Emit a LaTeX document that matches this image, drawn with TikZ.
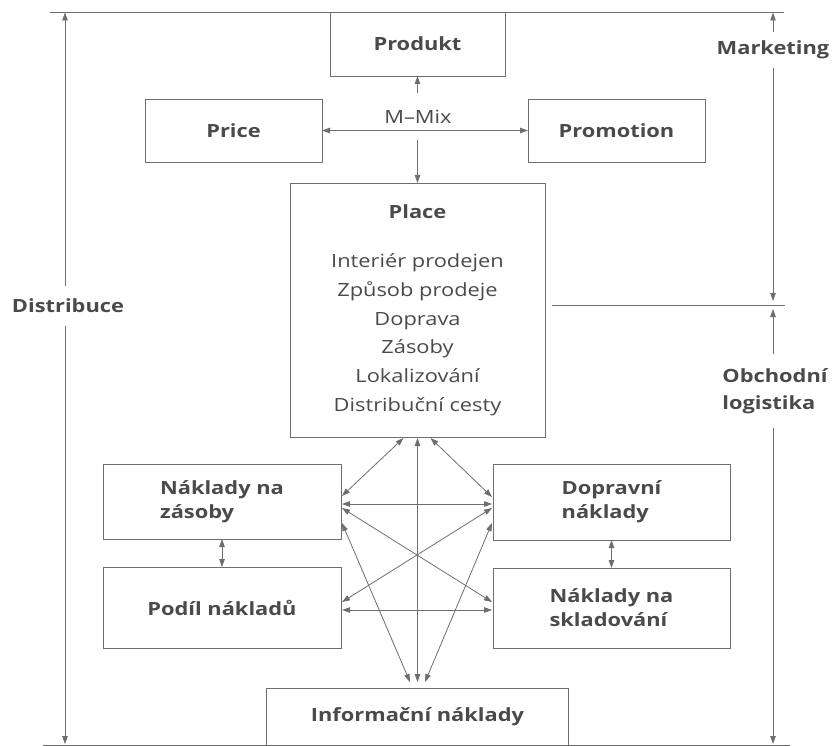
\documentclass[tikz,border=0pt]{standalone}
\usepackage{fontspec}
\setmainfont{Open Sans}[FakeStretch=1.2]
\usetikzlibrary{arrows.meta,calc}
\definecolor{ln}{HTML}{6E6E6E}
\definecolor{tx}{HTML}{4A4A4A}
\newcommand\lblfont{\fontsize{18.2}{24}\selectfont\bfseries}
\newcommand\txtfont{\fontsize{18.2}{28.7}\selectfont}
\begin{document}
\begin{tikzpicture}[x=1pt,y=-1pt,
  >={Triangle[length=8pt,width=5.5pt]},
  box/.style={draw=ln, line width=0.8pt, inner sep=0pt, outer sep=0pt,
    text=tx, font=\lblfont, align=center},
  axlbl/.style={text=tx, font=\lblfont, inner xsep=1pt, inner ysep=0pt},
  conn/.style={draw=ln, line width=0.8pt},
  plain/.style={draw=ln, line width=0.8pt}]
\useasboundingbox (0,0) rectangle (833,746);

% frame lines
\coordinate (topL) at (50,12);
\coordinate (topR) at (784,12);
\coordinate (botL) at (43,745);
\coordinate (botR) at (790,745);
\coordinate (midL) at (552,305);
\coordinate (midR) at (785,305);
\draw[plain] (topL) -- (topR);
\draw[plain] (botL) -- (botR);
\draw[plain] (midL) -- (midR);

% boxes
\node[box, minimum width=175pt, minimum height=64pt] (produkt) at (417.5,44) {Produkt};
\node[box, minimum width=177pt, minimum height=63pt] (price) at (233.5,130.5) {Price};
\node[box, minimum width=177pt, minimum height=63pt] (promotion) at (616.5,130.5) {Promotion};
\node[text=tx, font=\txtfont, inner sep=0pt] (mmix) at (418,117) {M–Mix};
\node[box, font=\txtfont, minimum width=255pt, minimum height=254pt] (place) at (417.5,310)
  {{\bfseries Place}\\[21pt] Interiér prodejen\\ Způsob prodeje\\ Doprava\\ Zásoby\\ Lokalizování\\ Distribuční cesty};
\node[box, align=left, minimum width=238pt, minimum height=75pt] (zasoby) at (222,501.5) {Náklady na\\zásoby};
\node[box, align=left, minimum width=237pt, minimum height=76pt] (doprava) at (611.5,502) {Dopravní\\náklady};
\node[box, minimum width=238pt, minimum height=81pt] (podil) at (222,607.5) {Podíl nákladů};
\node[box, align=left, minimum width=237pt, minimum height=80pt] (sklad) at (611.5,608) {Náklady na\\skladování};
\node[box, minimum width=302pt, minimum height=57pt] (info) at (417.5,716.5) {Informační náklady};

% axis labels
\node[axlbl, minimum height=40pt] (dist) at (68,306) {Distribuce};
\node[axlbl, minimum height=36pt] (mkt) at (773,50) {Marketing};
\node[axlbl, align=left, minimum height=74pt, font=\fontsize{18.2}{27}\selectfont\bfseries] (obl) at (775,391) {Obchodní\\logistika};

% axis arrows
\coordinate (lT) at (65,12.5);
\coordinate (lB) at (65,744);
\coordinate (rT) at (773,12.5);
\coordinate (rM1) at (773,301);
\coordinate (rM2) at (773,309);
\coordinate (rB) at (773,744);
\draw[conn,->] (dist.north -| lT) -- (lT);
\draw[conn,->] (dist.south -| lT) -- (lB);
\draw[conn,->] (mkt.north -| rT) -- (rT);
\draw[conn,->] (mkt.south -| rT) -- (rM1);
\draw[conn,->] (obl.north -| rM2) -- (rM2);
\draw[conn,->] (obl.south -| rM2) -- (rB);

% marketing mix
\coordinate (mixU) at (417.5,93);
\coordinate (mixD) at (417.5,140);
\draw[conn,->] (mixU) -- (produkt.south);
\draw[conn,<->] (price) -- (promotion);
\draw[conn,->] (mixD) -- (place.north);

% cost network
\draw[conn,<->] ($(place.south)+(-14,1)$) -- ($(zasoby.east)+(1,-5.5)$);
\draw[conn,<->] ($(place.south)+(13,1)$) -- ($(doprava.west)+(-1,-5)$);
\draw[conn,<->] ($(place.south)+(0,1)$) -- ($(info.north)+(0,-6)$);
\draw[conn,<->] ($(zasoby.east)+(1,2.5)$) -- ($(doprava.west)+(-1,2)$);
\draw[conn,<->] ($(zasoby.east)+(1,6.5)$) -- ($(sklad.west)+(-1,-6)$);
\draw[conn,<->] ($(doprava.west)+(-1,6)$) -- ($(podil.east)+(1,-5.5)$);
\draw[conn,<->] ($(podil.east)+(1,2.5)$) -- ($(sklad.west)+(-1,2)$);
\draw[conn,<->] ($(zasoby.east)+(1,21.5)$) -- ($(info.north)+(-7.5,-6)$);
\draw[conn,<->] ($(doprava.west)+(-1,21)$) -- ($(info.north)+(7.5,-6)$);
\draw[conn,<->] (zasoby) -- (podil);
\draw[conn,<->] (doprava) -- (sklad);
\end{tikzpicture}
\end{document}
